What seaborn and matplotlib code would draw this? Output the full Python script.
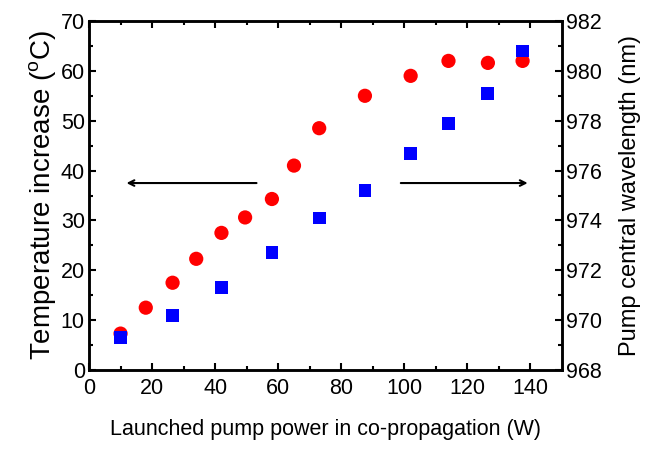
import numpy as np
import pandas as pd
import matplotlib.pyplot as plt
import seaborn as sns

# data
power_temp = [10, 18, 26.5, 34, 42, 49.5, 58, 65, 73, 87.5, 102, 114, 126.5, 137.5]
temp_rise = [7.3, 12.5, 17.5, 22.3, 27.5, 30.6, 34.3, 41, 48.5, 55, 59, 62, 61.6, 62]
power_wl = [10, 26.5, 42, 58, 73, 87.5, 102, 114, 126.5, 137.5]
wavelength = [969.3, 970.2, 971.3, 972.7, 974.1, 975.2, 976.7, 977.9, 979.1, 980.8]

sns.set_style("ticks", {'axes.edgecolor': 'black', 'text.color': 'black',
                        'xtick.color': 'black', 'ytick.color': 'black',
                        'axes.labelcolor': 'black'})
plt.rcParams['font.family'] = ['Liberation Sans', 'DejaVu Sans']
plt.rcParams['mathtext.fontset'] = 'custom'
plt.rcParams['mathtext.rm'] = 'Liberation Sans'

df_t = pd.DataFrame({'p': power_temp, 't': temp_rise})
df_w = pd.DataFrame({'p': power_wl, 'w': wavelength})

fig = plt.figure(figsize=(6.56, 4.5), dpi=100)
ax = fig.add_axes([0.1357, 0.1778, 0.7210, 0.7755])
ax2 = ax.twinx()

sns.scatterplot(data=df_t, x='p', y='t', ax=ax, color='#ff0000', marker='o',
                s=105, edgecolor='none', zorder=3)
sns.scatterplot(data=df_w, x='p', y='w', ax=ax2, color='#0000ff', marker='s',
                s=85, edgecolor='none', zorder=4)

ax.set_xlim(0, 150)
ax.set_ylim(0, 70)
ax2.set_ylim(968, 982)
ax.set_xticks(np.arange(0, 141, 20))
ax.set_xticks(np.arange(10, 150, 20), minor=True)
ax.set_yticks(np.arange(0, 71, 10))
ax.set_yticks(np.arange(5, 70, 10), minor=True)
ax2.set_yticks(np.arange(968, 983, 2))
ax2.set_yticks(np.arange(969, 982, 2), minor=True)

ax.tick_params(axis='both', which='both', direction='in', width=1.5, labelsize=15.5)
ax.tick_params(which='major', length=5)
ax.tick_params(which='minor', length=3)
ax.tick_params(axis='x', which='both', top=True, pad=6)
ax.tick_params(axis='y', pad=3)
ax2.tick_params(axis='y', which='both', direction='in', width=1.5, labelsize=15.5, pad=3)
ax2.tick_params(which='major', length=5)
ax2.tick_params(which='minor', length=3)

for a in (ax, ax2):
    for sp in a.spines.values():
        sp.set_linewidth(1.8)
        sp.set_visible(True)

ax.set_xlabel('Launched pump power in co-propagation (W)', fontsize=15.5, labelpad=14)
ax.set_ylabel('Temperature increase ($^{\\mathrm{o}}$C)', fontsize=20, labelpad=1)
ax2.set_ylabel('Pump central wavelength (nm)', fontsize=17, rotation=90, labelpad=12)
ax2.yaxis.set_label_position('right')

# direction arrows
ax.annotate('', xy=(11, 37.5), xytext=(54, 37.5),
            arrowprops=dict(arrowstyle='->', color='black', lw=1.5))
ax.annotate('', xy=(140, 37.5), xytext=(98, 37.5),
            arrowprops=dict(arrowstyle='->', color='black', lw=1.5))

fig.savefig('out.png', dpi=100)
